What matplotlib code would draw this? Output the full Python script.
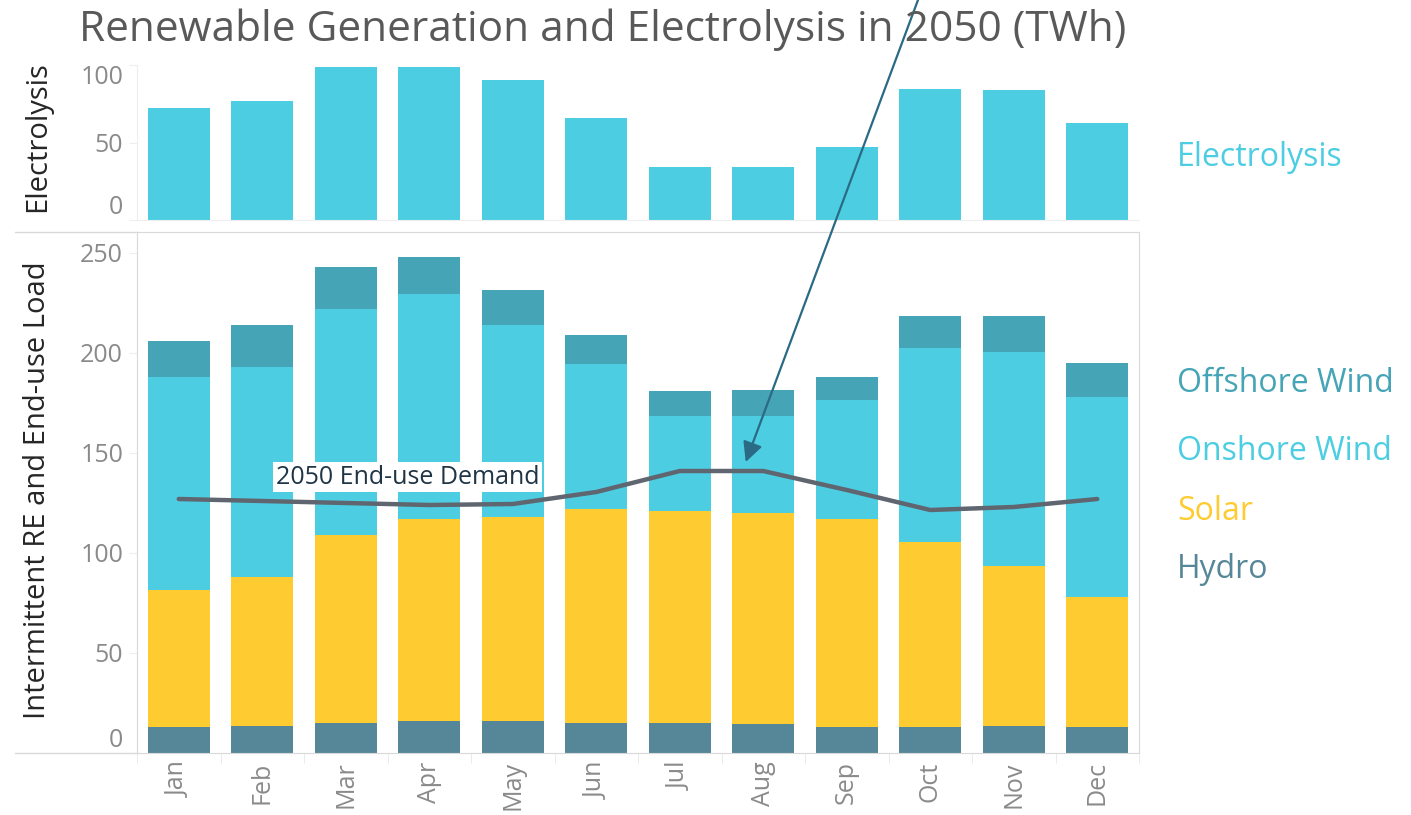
import matplotlib.pyplot as plt
from matplotlib.lines import Line2D

months = ['Jan', 'Feb', 'Mar', 'Apr', 'May', 'Jun', 'Jul', 'Aug', 'Sep', 'Oct', 'Nov', 'Dec']
electrolysis = [72, 76.5, 98.7, 98.7, 90.5, 66, 34.4, 34.4, 47, 84.7, 84, 62.4]
hydro = [13, 13.5, 15, 16, 16, 15, 15, 14.5, 13, 13, 13.5, 13]
solar = [68.5, 74.5, 94, 101, 102, 107, 106, 105.5, 104, 92.5, 80, 65]
onshore = [106.5, 105, 113, 112.5, 96, 72.5, 47.5, 48.5, 59.5, 97, 107, 100]
offshore = [18, 21, 21, 18.5, 17.5, 14.5, 12.5, 13, 11.5, 16, 18, 17]
demand = [127, 126, 125, 124, 124.5, 130.5, 141, 141, 131.5, 121.5, 123, 127]

c_elec = '#4ccde2'
c_off = '#45a4b5'
c_on = '#4ccde2'
c_solar = '#fecb30'
c_hydro = '#568798'
c_tick = '#8a8a8a'
c_spine = '#d9d9d9'

plt.rcParams['font.family'] = ['Open Sans', 'DejaVu Sans']

fig = plt.figure(figsize=(14.11, 8.15), dpi=100)
W, H = 1411, 815

def fx(px):
    return px / W

def fy(py):
    return 1 - py / H

x = list(range(len(months)))
bw = 0.74

# top panel (created first so the arrow from the lower panel is drawn over it)
ax_top = fig.add_axes([fx(137), fy(220), fx(1139) - fx(137), fy(65) - fy(220)])
ax_top.bar(x, electrolysis, width=bw, color=c_elec)
ax_top.set_xlim(-0.5, 11.5)
ax_top.set_ylim(0, 98.7)
ax_top.set_yticks([0, 50, 100])
ax_top.set_yticklabels(['0', '50', '100'], fontsize=18, color=c_tick)
ylabs = ax_top.get_yticklabels()
ylabs[0].set_va('bottom')
ylabs[2].set_va('top')
ax_top.set_xticks([])
for s in ['top', 'right']:
    ax_top.spines[s].set_visible(False)
for s in ['left', 'bottom']:
    ax_top.spines[s].set_color('#eeeeee')
ax_top.tick_params(axis='y', length=6, color='#eeeeee', pad=4)

# bottom panel
ax = fig.add_axes([fx(137), fy(753), fx(1139) - fx(137), fy(232) - fy(753)])
b1 = [h + s for h, s in zip(hydro, solar)]
b2 = [b + o for b, o in zip(b1, onshore)]
ax.bar(x, hydro, width=bw, color=c_hydro)
ax.bar(x, solar, width=bw, bottom=hydro, color=c_solar)
ax.bar(x, onshore, width=bw, bottom=b1, color=c_on)
ax.bar(x, offshore, width=bw, bottom=b2, color=c_off)
ax.plot(x, demand, color='#5f6670', lw=3.2, solid_capstyle='round', zorder=3)
ax.set_xlim(-0.5, 11.5)
ax.set_ylim(0, 260.5)
ax.set_yticks([0, 50, 100, 150, 200, 250])
ax.set_yticklabels(['0', '50', '100', '150', '200', '250'], fontsize=18, color=c_tick)
ax.get_yticklabels()[0].set_va('bottom')
ax.set_xticks(x)
ax.set_xticklabels(months, rotation=90, fontsize=18, color=c_tick)
ax.set_xticks([i - 0.5 for i in range(13)], minor=True)
ax.tick_params(axis='x', which='major', length=0, pad=6)
ax.tick_params(axis='x', which='minor', length=7, color='#e6e6e6')
ax.tick_params(axis='y', length=6, color='#eeeeee', pad=4)
for s in ax.spines.values():
    s.set_color(c_spine)

ax.text(1.16, 138, '2050 End-use Demand', fontsize=18, color='#1f3545', va='center', ha='left',
        bbox=dict(facecolor='white', edgecolor='none', pad=2), zorder=4)

ax.annotate('', xy=(6.79, 145.5), xycoords='data', xytext=(fx(918), 1.0), textcoords='figure fraction',
            arrowprops=dict(arrowstyle='-|>', color='#2b6a84', lw=1.6, mutation_scale=30, shrinkA=0, shrinkB=0),
            annotation_clip=False, zorder=5)

# long horizontal rules extending left
fig.add_artist(Line2D([fx(15), fx(137)], [fy(232), fy(232)], color=c_spine, lw=1))
fig.add_artist(Line2D([fx(15), fx(137)], [fy(753), fy(753)], color=c_spine, lw=1))

fig.text(fx(603), fy(30), 'Renewable Generation and Electrolysis in 2050 (TWh)', fontsize=30.5,
         color='#595959', ha='center', va='center')

fig.text(fx(38), fy(137), 'Electrolysis', rotation=90, fontsize=21, color='#262626', ha='center', va='center')
fig.text(fx(38), fy(490), 'Intermittent RE and End-use Load', rotation=90, fontsize=21, color='#262626',
         ha='center', va='center')

legend_items = [('Electrolysis', c_elec, 158), ('Offshore Wind', c_off, 384), ('Onshore Wind', c_on, 451),
                ('Solar', c_solar, 512), ('Hydro', c_hydro, 570)]
for name, col, py in legend_items:
    fig.text(fx(1177), fy(py), name, fontsize=23, color=col, ha='left', va='center')

fig.savefig('out.png', dpi=100)
